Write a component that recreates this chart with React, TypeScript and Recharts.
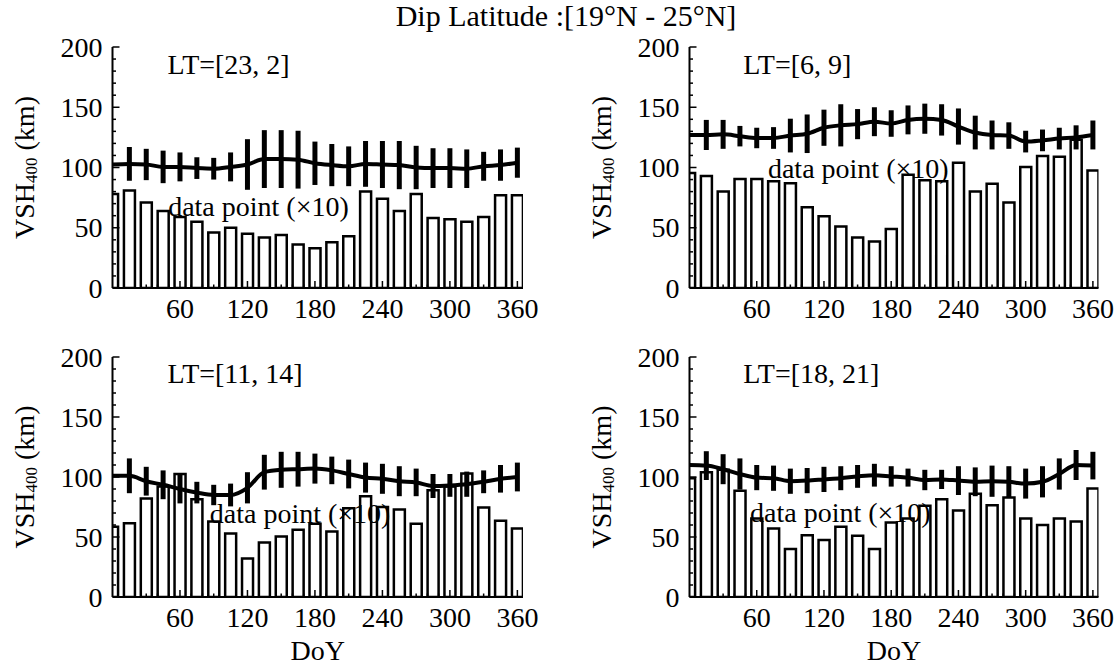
import React from 'react';
import { ComposedChart, Bar, Line, XAxis, YAxis, ErrorBar, ReferenceDot } from 'recharts';

const FONT = '"Liberation Serif", "Times New Roman", Times, serif';

// ---------- data ----------
const days = [0, 15, 30, 45, 60, 75, 90, 105, 120, 135, 150, 165, 180, 195, 210, 225, 240, 255, 270, 285, 300, 315, 330, 345, 360];

const xLabelTicks = [60, 120, 180, 240, 300, 360];
const xMinorTicks = [10, 20, 30, 40, 50, 60, 70, 80, 90, 100, 110, 120, 130, 140, 150, 160, 170, 180, 190, 200, 210, 220, 230, 240, 250, 260, 270, 280, 290, 300, 310, 320, 330, 340, 350, 360];
const yLabelTicks = [0, 50, 100, 150, 200];
const yMinorTicks = [0, 10, 20, 30, 40, 50, 60, 70, 80, 90, 100, 110, 120, 130, 140, 150, 160, 170, 180, 190, 200];

const title = 'Dip Latitude :[19°N - 25°N]';
const ltLabels = ['LT=[23, 2]', 'LT=[6, 9]', 'LT=[11, 14]', 'LT=[18, 21]'];
const countLabel = 'data point (×10)';

// LT=[23, 2]
const p1Count = [78, 81, 71, 64, 59, 55, 46, 50, 45, 42, 44, 36, 33, 38, 43, 80, 74, 64, 78, 58, 57, 55, 59, 77, 77];
const p1Vsh = [102.5, 103, 102.5, 100.5, 100.5, 99.5, 99, 100.5, 102.5, 107, 107, 106.5, 103.5, 102, 101, 103, 102.5, 102, 100, 99.5, 99.5, 99, 101, 102, 104];
const p1Err = [0, 14, 13, 13.5, 12, 9, 9, 12, 21, 24, 24, 24, 18, 17.5, 16.5, 19, 19.5, 20, 18, 16.5, 16.5, 16, 12, 13, 12.5];

// LT=[6, 9]
const p2Count = [95.5, 93, 80, 90.5, 90.5, 88.5, 87, 67, 59.5, 51, 42, 38.5, 49, 94, 89.5, 88.5, 104, 80, 86.5, 71, 100.5, 109.5, 109, 123, 97.5];
const p2Vsh = [127, 127, 127.5, 126, 124.5, 124.5, 126.5, 128, 133, 135, 136, 138, 136.5, 139.5, 140.5, 139.5, 134, 129, 127, 126.5, 121.5, 122.5, 124, 125, 127];
const p2Err = [0, 12.5, 12, 8.5, 8.5, 9, 14, 16, 15, 17.5, 12.5, 12, 11, 12, 12.5, 13, 15, 14, 12, 11, 9, 9, 9, 10, 12];

// LT=[11, 14]
const p3Count = [58.5, 61.5, 82, 92, 102.5, 81.5, 63, 53, 32, 45.5, 50.5, 56, 61, 54.5, 74, 84, 75, 73, 61, 89, 92, 103, 74.5, 63.5, 57];
const p3Vsh = [101, 101, 96.5, 93.5, 90, 87, 85, 85, 91, 104, 106, 106.5, 107, 105.5, 102.5, 99.5, 98.5, 96.5, 95.5, 92.5, 93, 94, 96, 98.5, 100];
const p3Err = [0, 14.5, 12, 12, 12, 9, 8.5, 9.5, 13, 14.5, 15, 14.5, 12.5, 11.5, 12, 12.5, 12.5, 12.5, 11.5, 10, 9.5, 10.5, 9.5, 11.5, 12];

// LT=[18, 21]
const p4Count = [99, 104, 106, 88.5, 65.5, 57, 40, 51.5, 47.5, 58.5, 51, 40, 62, 65.5, 76, 81.5, 72, 86, 76.5, 83, 65.5, 60, 65.5, 63, 90.5];
const p4Vsh = [110, 109.5, 106.5, 102.5, 99.5, 99, 96.5, 97, 98, 99, 100.5, 101.5, 100.5, 99.5, 97.5, 98, 97, 96, 96.5, 96, 94.5, 96, 102.5, 110, 109.5];
const p4Err = [0, 12, 12.5, 13, 10.5, 10.5, 10.5, 10.5, 10.5, 10, 9.5, 9.5, 8.5, 7.5, 8.5, 8, 12, 12, 13, 13, 12.5, 13, 13, 12.5, 11.5];

const build = (cnt: number[], vsh: number[], err: number[]) =>
  days.map((d, i) => ({ day: d, cnt: cnt[i], vsh: vsh[i], err: err[i] }));

// ---------- rendering helpers ----------
const AX = { stroke: '#000', strokeWidth: 2 };
const TXT = { fontFamily: FONT, fontSize: 28, fill: '#000' };

const BottomTick = (p: any) => {
  const { x, y, payload } = p;
  const v = payload.value;
  const major = xLabelTicks.includes(v);
  return (
    <g>
      <line x1={x} x2={x} y1={y} y2={y - (major ? 7 : 3.5)} stroke="#000" strokeWidth={1.5} />
      {major && (
        <text x={x} y={y + 30} textAnchor="middle" {...TXT}>
          {v}
        </text>
      )}
    </g>
  );
};

const TopTick = (p: any) => {
  const { x, y, payload } = p;
  const major = xLabelTicks.includes(payload.value);
  return <line x1={x} x2={x} y1={y} y2={y + (major ? 7 : 3.5)} stroke="#000" strokeWidth={1.5} />;
};

const LeftTick = (p: any) => {
  const { x, y, payload } = p;
  const v = payload.value;
  const major = yLabelTicks.includes(v);
  return (
    <g>
      <line x1={x} x2={x + (major ? 7 : 3.5)} y1={y} y2={y} stroke="#000" strokeWidth={1.5} />
      {major && (
        <text x={x - 10} y={y} dy="0.34em" textAnchor="end" {...TXT}>
          {v}
        </text>
      )}
    </g>
  );
};

const RightTick = (p: any) => {
  const { x, y, payload } = p;
  const major = yLabelTicks.includes(payload.value);
  return <line x1={x} x2={x - (major ? 7 : 3.5)} y1={y} y2={y} stroke="#000" strokeWidth={1.5} />;
};

const YLabel = (p: any) => {
  const vb = p.viewBox;
  if (!vb) return null;
  const bx = vb.x + vb.width - 79;
  const cy = vb.y + vb.height / 2;
  return (
    <text transform={`rotate(-90 ${bx} ${cy})`} x={bx} y={cy} textAnchor="middle" {...TXT}>
      VSH
      <tspan fontSize={17} dy={3}>400</tspan>
      <tspan dy={-3}> (km)</tspan>
    </text>
  );
};

const DoYLabel = (p: any) => {
  const vb = p.viewBox;
  if (!vb) return null;
  return (
    <text x={vb.x + vb.width / 2} y={vb.y + 63} textAnchor="middle" {...TXT}>
      DoY
    </text>
  );
};

const textShape = (txt: string) => (p: any) => (
  <text x={p.cx} y={p.cy} {...TXT}>
    {txt}
  </text>
);

type PanelProps = {
  data: any[];
  lt: string;
  ltAt: [number, number];
  dpAt: [number, number];
  left: number;
  top: number;
  w: number;
  h: number;
  mr: number;
  mb: number;
  showDoY: boolean;
};

function Panel({ data, lt, ltAt, dpAt, left, top, w, h, mr, mb, showDoY }: PanelProps) {
  return (
    <div style={{ position: 'absolute', left, top }}>
      <ComposedChart width={w} height={h} data={data} margin={{ top: 47, right: mr, bottom: mb, left: 0 }}>
        <XAxis
          xAxisId="b"
          dataKey="day"
          type="number"
          domain={[0, 365]}
          allowDataOverflow
          ticks={xMinorTicks}
          interval={0}
          tickSize={0}
          tickMargin={0}
          tickLine={false}
          axisLine={AX}
          tick={BottomTick}
          height={34}
          label={showDoY ? { content: DoYLabel } : undefined}
        />
        <XAxis
          xAxisId="t"
          orientation="top"
          type="number"
          domain={[0, 365]}
          allowDataOverflow
          ticks={xMinorTicks}
          interval={0}
          tickSize={0}
          tickMargin={0}
          tickLine={false}
          axisLine={AX}
          tick={TopTick}
          height={0}
        />
        <YAxis
          yAxisId="l"
          type="number"
          domain={[0, 200]}
          allowDataOverflow
          ticks={yMinorTicks}
          interval={0}
          tickSize={0}
          tickMargin={0}
          tickLine={false}
          axisLine={AX}
          tick={LeftTick}
          width={112.5}
          label={{ content: YLabel }}
        />
        <YAxis
          yAxisId="r"
          orientation="right"
          type="number"
          domain={[0, 200]}
          allowDataOverflow
          ticks={yMinorTicks}
          interval={0}
          tickSize={0}
          tickMargin={0}
          tickLine={false}
          axisLine={AX}
          tick={RightTick}
          width={0}
        />
        <Bar
          xAxisId="b"
          yAxisId="l"
          dataKey="cnt"
          barSize={11}
          fill="#fff"
          stroke="#000"
          strokeWidth={2.5}
          isAnimationActive={false}
        />
        <Line
          xAxisId="b"
          yAxisId="l"
          dataKey="vsh"
          type="monotone"
          stroke="#000"
          strokeWidth={4}
          dot={false}
          isAnimationActive={false}
        >
          <ErrorBar dataKey="err" width={0} strokeWidth={5} stroke="#000" direction="y" isAnimationActive={false} />
        </Line>
        <ReferenceDot xAxisId="b" yAxisId="l" x={ltAt[0]} y={ltAt[1]} r={0} shape={textShape(lt)} />
        <ReferenceDot xAxisId="b" yAxisId="l" x={dpAt[0]} y={dpAt[1]} r={0} shape={textShape(countLabel)} />
      </ComposedChart>
    </div>
  );
}

export default function App() {
  return (
    <div style={{ position: 'absolute', left: 0, top: 0, width: 1120, height: 666, overflow: 'hidden', background: '#fff' }}>
      <svg width={1120} height={40} style={{ position: 'absolute', left: 0, top: 0 }}>
        <text x={566} y={26} textAnchor="middle" {...TXT} fontSize={30}>
          {title}
        </text>
      </svg>
      <Panel data={build(p1Count, p1Vsh, p1Err)} lt={ltLabels[0]} ltAt={[49, 178]} dpAt={[49.5, 60]}
        left={0} top={0} w={560} h={330} mr={37} mb={8} showDoY={false} />
      <Panel data={build(p2Count, p2Vsh, p2Err)} lt={ltLabels[1]} ltAt={[48, 178]} dpAt={[70, 91]}
        left={576.5} top={0} w={543.5} h={330} mr={22} mb={8} showDoY={false} />
      <Panel data={build(p3Count, p3Vsh, p3Err)} lt={ltLabels[2]} ltAt={[49, 178]} dpAt={[86.5, 62]}
        left={0} top={310} w={560} h={356} mr={37} mb={35} showDoY={true} />
      <Panel data={build(p4Count, p4Vsh, p4Err)} lt={ltLabels[3]} ltAt={[48, 178]} dpAt={[54, 62.7]}
        left={576.5} top={310} w={543.5} h={356} mr={22} mb={35} showDoY={true} />
    </div>
  );
}
